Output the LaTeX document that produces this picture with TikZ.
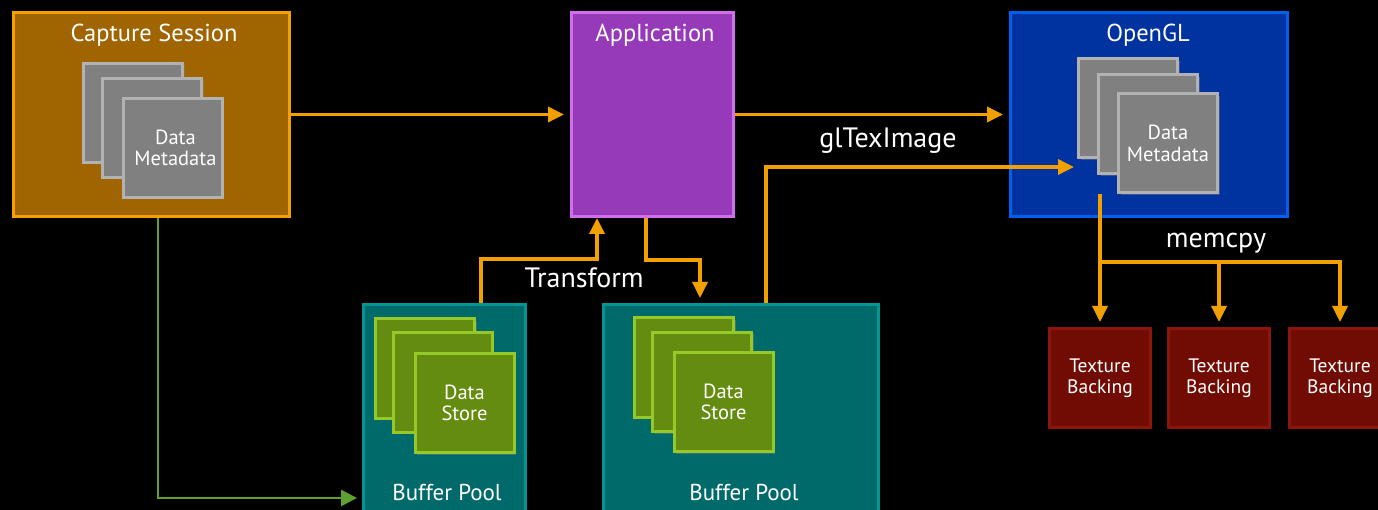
\documentclass[tikz,border=0pt]{standalone}
\usepackage{fontspec}
\setmainfont{PT Sans}
\usetikzlibrary{arrows.meta,shadows}
\definecolor{lineO}{RGB}{242,160,0}
\definecolor{lineG}{RGB}{96,160,48}
\definecolor{capF}{RGB}{160,100,0}
\definecolor{capB}{RGB}{245,160,0}
\definecolor{appF}{RGB}{150,58,185}
\definecolor{appB}{RGB}{210,110,235}
\definecolor{glF}{RGB}{0,50,160}
\definecolor{glB}{RGB}{0,96,240}
\definecolor{bpF}{RGB}{0,106,106}
\definecolor{bpB}{RGB}{0,150,150}
\definecolor{gcF}{RGB}{100,140,16}
\definecolor{gcB}{RGB}{150,200,40}
\definecolor{grF}{RGB}{128,128,128}
\definecolor{grB}{RGB}{178,178,178}
\definecolor{tbF}{RGB}{112,12,4}
\definecolor{tbB}{RGB}{140,22,10}
\tikzset{
  panel/.style={line width=3pt, inner sep=0pt},
  card/.style={line width=3pt, inner sep=0pt, minimum width=99pt, minimum height=99pt,
    text=white, align=center, font=\fontsize{20.5}{21.5}\selectfont,
    drop shadow={shadow xshift=2pt, shadow yshift=-2pt, opacity=0.45}},
  graycard/.style={card, draw=grB, fill=grF},
  greencard/.style={card, draw=gcB, fill=gcF},
  texbox/.style={panel, draw=tbB, fill=tbF, minimum width=101pt, minimum height=99pt,
    text=white, align=center, font=\fontsize{19.5}{21}\selectfont},
  title/.style={anchor=base, text=white, inner sep=0pt, font=\fontsize{24.5}{28}\selectfont},
  bptitle/.style={title, font=\fontsize{23}{27}\selectfont},
  lbl/.style={anchor=base, text=white, inner sep=0pt, font=\fontsize{28}{32}\selectfont},
  arr/.style={draw=lineO, line width=3.5pt, -{Triangle[length=16pt,width=15pt]}},
  garr/.style={draw=lineG, line width=2.8pt, -{Triangle[length=16pt,width=16pt]}},
}
\begin{document}
\begin{tikzpicture}[x=1pt,y=-1pt]
\fill[black] (0,0) rectangle (1378,510);
\useasboundingbox (0,0) rectangle (1378,510);
\clip (0,0) rectangle (1378,510);

% panels
\node[panel, draw=capB, fill=capF, minimum width=276pt, minimum height=204pt] (cap) at (151.5,114.5) {};
\node[panel, draw=appB, fill=appF, minimum width=162pt, minimum height=204pt] (app) at (652.5,114.5) {};
\node[panel, draw=glB, fill=glF, minimum width=277pt, minimum height=204pt] (gl) at (1149,114.5) {};
\node[panel, draw=bpB, fill=bpF, minimum width=162pt, minimum height=210pt] (bp1) at (444.5,409.5) {};
\node[panel, draw=bpB, fill=bpF, minimum width=275pt, minimum height=210pt] (bp2) at (741,409.5) {};

% titles
\node[title] (capT) at (154,42) {Capture Session};
\node[title] (appT) at (655,42) {Application};
\node[title] (glT) at (1148,42) {OpenGL};
\node[bptitle] (bp1T) at (447,500) {Buffer Pool};
\node[bptitle] (bp2T) at (744,500) {Buffer Pool};

% capture cards
\node[graycard] (cc1) at (133,113) {};
\node[graycard] (cc2) at (152,128) {};
\node[graycard] (cc3) at (172.5,148) {\hspace*{6pt}Data\\\hspace*{6pt}Metadata};

% opengl cards
\node[graycard] (gc1) at (1128,108.5) {};
\node[graycard] (gc2) at (1148,124.5) {};
\node[graycard] (gc3) at (1168,143.5) {Data\\Metadata};

% buffer pool cards
\node[greencard] (b1c1) at (425,368.5) {};
\node[greencard] (b1c2) at (442.5,382.5) {};
\node[greencard] (b1c3) at (464.5,403) {Data\\Store};
\node[greencard] (b2c1) at (684,367.5) {};
\node[greencard] (b2c2) at (702,382) {};
\node[greencard] (b2c3) at (723.5,402) {Data\\Store};

% texture backings
\node[texbox] (tb1) at (1100,378) {Texture\\Backing};
\node[texbox] (tb2) at (1219,378) {Texture\\Backing};
\node[texbox] (tb3) at (1340,378) {Texture\\Backing};

% connectors
\draw[arr] (cap.east) -- ([xshift=-6pt]app.west);
\draw[arr] (app.east) -- ([xshift=-6pt]gl.west);
\coordinate (gltip) at (1074,167);
\draw[arr] ([xshift=25pt]bp2.north) |- (gltip);
\draw[arr] ([xshift=36.5pt]bp1.north) -- ++(0,-44) -| ([xshift=-55.5pt]app.south);
\draw[arr] ([xshift=-6.5pt]app.south) -- ++(0,42) -| ([xshift=-41pt,yshift=5pt]bp2.north);
\draw[garr] ([xshift=6.5pt]cap.south) |- ([xshift=-5pt,yshift=18pt]bp1.south west);
\coordinate (mj) at (1100,262);
\draw[arr] ([xshift=-49pt,yshift=24pt]gl.south) -- ([yshift=5pt]tb1.north);
\draw[arr] (mj) -| ([yshift=5pt]tb2.north);
\draw[arr] (mj) -| ([yshift=5pt]tb3.north);

% labels
\node[lbl] (trL) at (584,288) {Transform};
\node[lbl] (glL) at (888,148) {glTexImage};
\node[lbl] (mcL) at (1216,248) {memcpy};
\end{tikzpicture}
\end{document}
